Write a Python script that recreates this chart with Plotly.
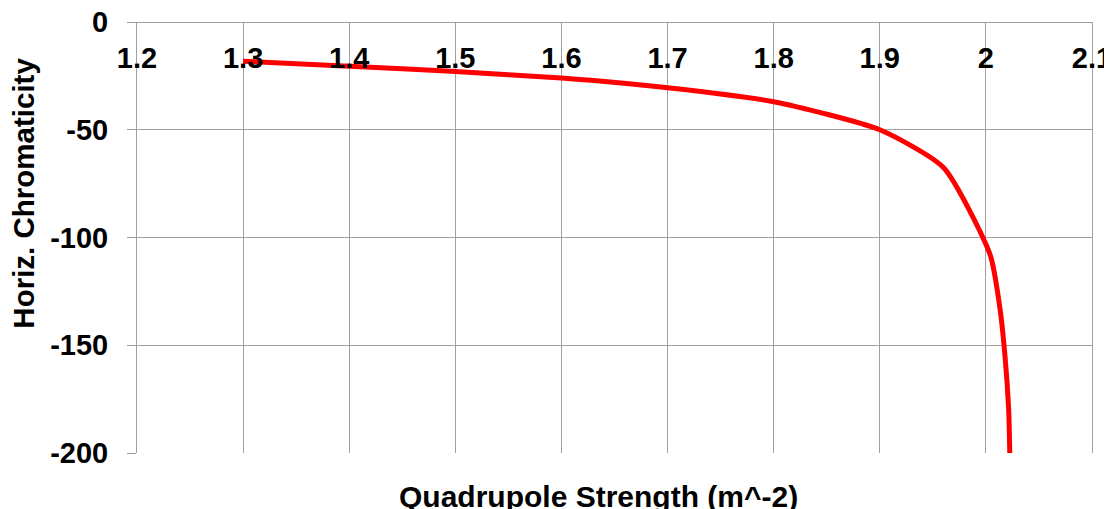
import plotly.graph_objects as go

# Data
quad_strength = [1.30, 1.40, 1.50, 1.60, 1.70, 1.80, 1.90, 1.96, 2.004, 2.013, 2.018, 2.0215, 2.0225]
horiz_chrom = [-18.2, -20.5, -23.0, -26.0, -30.5, -37.0, -50.0, -67.5, -108.0, -132.0, -155.0, -180.0, -200.0]

x_ticks = [1.2, 1.3, 1.4, 1.5, 1.6, 1.7, 1.8, 1.9, 2.0, 2.1]
x_tick_labels = ["1.2", "1.3", "1.4", "1.5", "1.6", "1.7", "1.8", "1.9", "2", "2.1"]
y_ticks = [0, -50, -100, -150, -200]
y_tick_labels = ["0", "-50", "-100", "-150", "-200"]

FONT = "Liberation Sans, Arial, sans-serif"
GRID = "#A0A0A0"

fig = go.Figure()
fig.add_trace(go.Scatter(
    x=quad_strength, y=horiz_chrom, mode="lines",
    line=dict(color="#FF0000", width=5, shape="spline", smoothing=0.6),
    showlegend=False, hoverinfo="skip",
))

# page body has an 8px margin, so the figure is sized/offset accordingly
fig.update_layout(
    width=1104, height=501,
    margin=dict(l=128.5, r=20, t=14, b=56, autoexpand=False),
    paper_bgcolor="white", plot_bgcolor="white",
    font=dict(family=FONT, color="black"),
    xaxis=dict(
        range=[1.2, 2.1], tickvals=x_ticks, ticktext=x_tick_labels,
        anchor="free", position=1, side="bottom", automargin=False,
        showgrid=True, gridcolor=GRID, gridwidth=1,
        showline=True, linecolor=GRID, linewidth=1, mirror=True,
        ticks="", zeroline=False, ticklabeloverflow="allow",
        tickfont=dict(family=FONT, size=29, weight="bold", color="black"),
        ticklabelstandoff=10,
    ),
    yaxis=dict(
        range=[-200, 0], tickvals=y_ticks, ticktext=y_tick_labels,
        automargin=False, ticklabeloverflow="allow",
        showgrid=True, gridcolor=GRID, gridwidth=1,
        showline=True, linecolor=GRID, linewidth=1, mirror=True,
        ticks="outside", ticklen=9, tickcolor=GRID, tickwidth=1,
        zeroline=False,
        tickfont=dict(family=FONT, size=29, weight="bold", color="black"),
        ticklabelstandoff=13,
    ),
    annotations=[
        dict(text="Quadrupole Strength (m^-2)", xref="paper", yref="paper",
             x=0.483, y=-0.102, showarrow=False, xanchor="center", yanchor="middle",
             font=dict(family=FONT, size=30, weight="bold", color="black")),
        dict(text="Horiz. Chromaticity", xref="paper", yref="paper",
             x=-0.1188, y=0.603, showarrow=False, textangle=-90,
             xanchor="center", yanchor="middle",
             font=dict(family=FONT, size=29.5, weight="bold", color="black")),
    ],
)

fig.write_html("out.html")
